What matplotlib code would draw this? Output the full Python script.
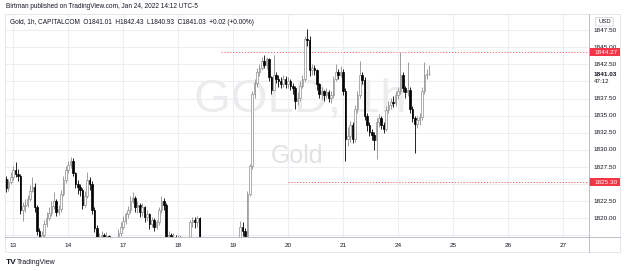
import matplotlib
matplotlib.use("Agg")
import matplotlib.pyplot as plt
from matplotlib.patches import Rectangle, FancyBboxPatch

# ---------------- data (hourly candles, Gold CAPITALCOM) ----------------
first_open = 1825.8
closes = [
    1824.4, 1825.3, 1826.0,
    # Jan 13
    1827.0, 1826.5, 1826.2, 1821.2, 1821.8, 1822.0, 1822.8, 1824.0, 1824.6, 1821.6,
    1818.2, 1816.0, 1817.6, 1819.2, 1820.0, 1820.8, 1821.8, 1822.6, 1821.0, 1821.3,
    1823.6, 1825.6, 1827.0,
    # Jan 14
    1827.8, 1828.4, 1826.6, 1825.0, 1824.6, 1824.2, 1822.0, 1823.2, 1825.6, 1825.0,
    1821.2, 1818.6, 1816.6, 1817.2, 1817.6, 1816.8, 1817.4, 1816.8, 1816.0, 1815.6,
    1816.6, 1817.8, 1818.8,
    # Jan 17
    1819.6, 1820.6, 1821.2, 1822.6, 1823.0, 1821.6, 1822.0, 1821.0, 1821.6, 1820.2,
    1820.6, 1819.2, 1819.8, 1818.8, 1819.4, 1821.2, 1822.6, 1822.0, 1817.2, 1817.6,
    1817.0, 1817.3, 1816.6,
    # Jan 18
    1817.3, 1816.4, 1815.6, 1815.0, 1815.6, 1819.4, 1819.8, 1819.5, 1820.0, 1816.0,
    1815.4, 1814.8, 1814.2, 1813.8, 1814.4, 1814.0, 1813.6, 1814.2, 1814.8, 1814.4,
    1815.0, 1814.6, 1815.2,
    # Jan 19
    1815.0, 1815.6, 1816.6, 1818.8, 1818.2, 1817.4, 1823.6, 1827.6, 1838.2, 1839.8,
    1841.4, 1842.0, 1843.0, 1842.4, 1843.2, 1840.6, 1838.8, 1841.0, 1840.4, 1840.0,
    1839.6, 1840.4, 1839.6,
    # Jan 20
    1840.0, 1839.4, 1839.0, 1837.2, 1837.6, 1839.4, 1840.4, 1846.2, 1846.0, 1841.6,
    1842.0, 1841.6, 1839.6, 1838.2, 1838.6, 1838.0, 1838.4, 1837.6, 1838.0, 1840.4,
    1841.4, 1841.0, 1841.4,
    # Jan 21
    1838.6, 1831.6, 1832.0, 1833.6, 1831.6, 1836.0, 1838.0, 1841.0, 1840.2, 1835.0,
    1833.6, 1832.6, 1832.2, 1831.4, 1834.0, 1834.6, 1833.6, 1833.0, 1835.8, 1836.6,
    1837.0, 1836.8, 1838.0,
    # Jan 24
    1838.6, 1841.0, 1839.0, 1838.4, 1838.8, 1836.0, 1834.6, 1833.8, 1834.4, 1834.8,
    1838.6, 1841.0, 1841.01, 1841.03,
]
highs = [
    1826.2, 1825.8, 1826.8,
    1827.6, 1828.2, 1827.2, 1826.5, 1822.4, 1822.8, 1823.4, 1824.8, 1826.0, 1825.2,
    1822.0, 1818.6, 1818.2, 1819.8, 1821.0, 1821.6, 1822.6, 1823.8, 1822.8, 1822.0,
    1824.2, 1826.2, 1827.6,
    1828.4, 1829.0, 1828.8, 1826.8, 1825.6, 1825.0, 1824.4, 1824.0, 1826.8, 1826.0,
    1825.4, 1821.6, 1819.0, 1817.8, 1818.2, 1817.8, 1818.0, 1817.6, 1817.0, 1816.4,
    1817.2, 1818.4, 1819.4,
    1820.4, 1821.0, 1821.8, 1823.2, 1823.8, 1823.2, 1822.6, 1822.2, 1822.2, 1821.8,
    1821.2, 1820.8, 1820.2, 1820.0, 1819.8, 1821.6, 1823.2, 1823.0, 1822.2, 1818.2,
    1817.8, 1817.8, 1817.6,
    1817.6, 1817.4, 1816.6, 1815.8, 1816.2, 1819.8, 1820.2, 1820.2, 1820.4, 1820.2,
    1816.4, 1815.8, 1815.2, 1814.6, 1815.0, 1814.8, 1814.4, 1815.0, 1815.4, 1815.2,
    1815.6, 1815.4, 1815.8,
    1815.8, 1816.2, 1817.2, 1819.6, 1819.4, 1818.6, 1824.0, 1828.0, 1838.6, 1840.4,
    1842.0, 1842.6, 1843.6, 1843.8, 1843.6, 1843.4, 1840.8, 1843.8, 1841.4, 1841.0,
    1840.6, 1841.0, 1840.8,
    1840.6, 1840.4, 1839.8, 1839.4, 1838.4, 1840.0, 1841.0, 1846.6, 1847.6, 1846.6,
    1842.6, 1842.4, 1841.8, 1839.8, 1839.2, 1838.8, 1839.0, 1838.8, 1838.6, 1840.8,
    1842.6, 1841.8, 1842.2,
    1841.8, 1839.0, 1833.4, 1834.2, 1834.0, 1836.6, 1838.6, 1843.0, 1841.4, 1840.6,
    1835.4, 1834.0, 1833.0, 1832.6, 1834.6, 1835.2, 1835.0, 1834.0, 1836.4, 1837.2,
    1837.6, 1837.8, 1838.6,
    1839.2, 1844.27, 1841.4, 1839.4, 1842.8, 1839.2, 1836.4, 1835.0, 1835.0, 1835.4,
    1839.2, 1842.8, 1841.8, 1842.43,
]
lows = [
    1823.8, 1824.0, 1825.0,
    1825.6, 1826.0, 1825.5, 1820.6, 1819.6, 1821.0, 1821.6, 1822.5, 1823.8, 1821.0,
    1817.6, 1815.0, 1815.8, 1817.2, 1818.8, 1819.8, 1820.4, 1821.4, 1820.4, 1820.5,
    1821.0, 1823.2, 1825.2,
    1826.6, 1827.4, 1826.2, 1824.4, 1823.6, 1823.2, 1821.4, 1821.6, 1823.0, 1824.2,
    1820.6, 1818.0, 1816.0, 1816.0, 1816.6, 1816.2, 1816.4, 1816.0, 1815.4, 1814.8,
    1815.2, 1816.2, 1817.4,
    1818.4, 1819.2, 1820.0, 1820.8, 1822.2, 1821.0, 1820.8, 1820.2, 1820.4, 1819.4,
    1819.6, 1818.4, 1818.8, 1818.2, 1818.4, 1819.0, 1820.8, 1821.2, 1816.6, 1816.8,
    1816.4, 1816.6, 1816.0,
    1816.2, 1815.8, 1815.0, 1814.2, 1814.6, 1815.2, 1818.8, 1818.6, 1818.8, 1815.4,
    1814.6, 1814.0, 1813.4, 1813.0, 1813.4, 1813.2, 1812.8, 1813.2, 1813.8, 1813.6,
    1814.0, 1813.8, 1814.2,
    1814.4, 1814.6, 1815.2, 1816.2, 1817.4, 1816.8, 1817.0, 1823.2, 1827.2, 1837.6,
    1839.2, 1840.8, 1841.6, 1842.0, 1841.8, 1840.0, 1838.2, 1838.6, 1839.8, 1839.2,
    1839.0, 1839.2, 1839.0,
    1839.0, 1838.8, 1838.2, 1836.0, 1836.6, 1837.2, 1839.0, 1840.0, 1845.2, 1840.8,
    1841.0, 1841.0, 1838.8, 1837.6, 1837.4, 1837.2, 1837.6, 1837.0, 1836.8, 1837.6,
    1840.0, 1840.4, 1840.6,
    1838.0, 1828.4, 1830.6, 1831.2, 1831.0, 1831.2, 1835.4, 1837.6, 1839.6, 1834.4,
    1832.8, 1832.0, 1831.4, 1830.0, 1828.6, 1833.4, 1833.0, 1832.4, 1832.8, 1835.4,
    1836.0, 1836.2, 1836.4,
    1837.4, 1838.2, 1838.4, 1837.6, 1837.8, 1835.4, 1834.0, 1829.6, 1833.2, 1833.6,
    1834.4, 1838.2, 1840.4, 1840.93,
]
opens = [first_open] + closes[:-1]

day_labels = ["13", "14", "17", "18", "19", "20", "21", "24", "25", "26", "27"]
day_start_index = [3, 26, 49, 72, 95, 118, 141, 164, 187, 210, 233]

price_ticks = [1847.5, 1845.0, 1842.5, 1837.5, 1835.0, 1832.5, 1830.0, 1827.5, 1822.5, 1820.0, 1817.5]
grid_prices = [1847.5, 1845.0, 1842.5, 1840.0, 1837.5, 1835.0, 1832.5, 1830.0, 1827.5, 1825.0, 1822.5, 1820.0, 1817.5]
level_high = 1844.27
level_low = 1825.30
last_price = 1841.03

header = "Birtman published on TradingView.com, Jan 24, 2022 14:12 UTC-5"
legend = "Gold, 1h, CAPITALCOM  O1841.01  H1842.43  L1840.93  C1841.03  +0.02 (+0.00%)"

# ---------------- figure ----------------
W, H = 625, 271
fig = plt.figure(figsize=(W / 100, H / 100), dpi=100)
plt.rcParams['font.family'] = ['Liberation Sans', 'DejaVu Sans']

def fx(px):
    return px / W

def fy(py):
    return 1 - py / H

L, R, T, B = 5, 589, 14, 237
ax = fig.add_axes([fx(L), fy(B), fx(R) - fx(L), fy(T) - fy(B)])
ax.set_xlim(-0.42, 243.9)
ax.set_ylim(1817.28, 1849.84)
for s in ax.spines.values():
    s.set_visible(False)
ax.set_xticks([])
ax.set_yticks([])

grid_c = "#eceef3"
for p in grid_prices:
    ax.axhline(p, color=grid_c, lw=0.8, zorder=0)
for d in day_start_index:
    ax.axvline(d, color=grid_c, lw=0.8, zorder=0)

# watermark
ax.text(0.505, 0.615, "GOLD, 1h", transform=ax.transAxes, ha="center", va="center",
        fontsize=34, color="#ececee", zorder=1)
ax.text(0.5, 0.365, "Gold", transform=ax.transAxes, ha="center", va="center",
        fontsize=18, color="#e2e2e5", zorder=1)

# candles
up_edge = "#8e8e8e"
idx = list(range(len(closes)))
for i, o, h, l, c in zip(idx, opens, highs, lows, closes):
    up = c >= o
    col = up_edge if up else "#000000"
    ax.vlines(i, l, h, color=col, lw=0.6, zorder=3)
    bottom = min(o, c)
    height = max(abs(c - o), 0.08)
    ax.add_patch(Rectangle((i - 0.33, bottom), 0.66, height,
                           facecolor="white" if up else "#000000",
                           edgecolor=col, lw=0.5, zorder=4))

# horizontal rays
red = "#f23645"
ax.hlines(level_high, 90, 244, colors=red, lw=0.7, linestyles=(0, (1.2, 1.8)), zorder=2, alpha=0.8)
ax.hlines(level_low, 118, 244, colors=red, lw=0.7, linestyles=(0, (1.2, 1.8)), zorder=2, alpha=0.8)

# price axis labels
ytr = ax.get_yaxis_transform()
for p in price_ticks:
    if p < 1817.6:
        continue
    ax.text(1.0085, p, f"{p:.2f}", transform=ytr, ha="left", va="center",
            fontsize=4.6, color="#131722", clip_on=False)
ax.text(1.0085, 1817.5, "1817.50", transform=ytr, ha="left", va="center",
        fontsize=4.6, color="#131722", clip_on=True)

# time labels
xtr = ax.get_xaxis_transform()
for d, lab in zip(day_start_index, day_labels):
    ax.text(d, -0.036, lab, transform=xtr, ha="center", va="center",
            fontsize=4.6, color="#131722", clip_on=False)

# frame lines
frame_c = "#e0e3eb"
fig.add_artist(plt.Line2D([fx(5), fx(620)], [fy(B), fy(B)], color="#b2b5be", lw=0.6))
fig.add_artist(plt.Line2D([fx(R), fx(R)], [fy(T), fy(252)], color="#b2b5be", lw=0.6))
fig.add_artist(Rectangle((fx(5), fy(252)), fx(620) - fx(5), fy(14) - fy(252),
                         transform=fig.transFigure, fill=False, edgecolor=frame_c, lw=0.6))

# red level labels
for p in (level_high, level_low):
    yp = 30 + (1847.5 - p) * 6.85
    fig.add_artist(Rectangle((fx(R), fy(yp + 4)), fx(620) - fx(R), fy(yp - 4) - fy(yp + 4),
                             transform=fig.transFigure, facecolor=red, edgecolor="none"))
    fig.text(fx(594), fy(yp), f"{p:.2f}", ha="left", va="center", fontsize=4.6, color="white")

# current price label
fig.add_artist(Rectangle((fx(R + 0.5), fy(87)), fx(620) - fx(R + 0.5), fy(70) - fy(87),
                         transform=fig.transFigure, facecolor="white", edgecolor="none"))
fig.text(fx(594), fy(75), f"{last_price:.2f}", ha="left", va="center", fontsize=4.6,
         color="#131722", fontweight="bold")
fig.text(fx(594), fy(81.5), "47:12", ha="left", va="center", fontsize=4.4, color="#131722")

# USD box
fig.add_artist(FancyBboxPatch((fx(597), fy(25.5)), fx(612) - fx(597), fy(18) - fy(25.5),
                              boxstyle="round,pad=0.002", transform=fig.transFigure,
                              facecolor="white", edgecolor="#c8cad0", lw=0.5))
fig.text(fx(604.5), fy(21.8), "USD", ha="center", va="center", fontsize=4.2, color="#131722")

# header and legend
fig.text(fx(6), fy(6), header, ha="left", va="center", fontsize=4.7, color="#131722")
fig.text(fx(10), fy(22.5), legend, ha="left", va="center", fontsize=4.7, color="#131722")

# logo
fig.text(fx(6), fy(262), "TV", ha="left", va="center", fontsize=6, fontweight="bold", color="#131722")
fig.text(fx(17), fy(262), "TradingView", ha="left", va="center", fontsize=5, color="#131722")

fig.savefig("out.png", dpi=100)
